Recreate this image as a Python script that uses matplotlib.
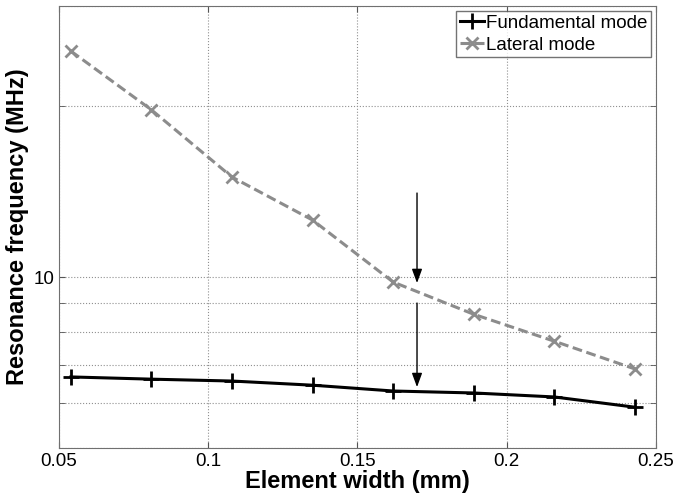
"""Resonance frequency vs element width, fundamental and lateral modes."""
import matplotlib
matplotlib.use("Agg")
import matplotlib.pyplot as plt
from matplotlib.ticker import FixedLocator, NullFormatter, FixedFormatter

plt.rcParams['font.family'] = ['Liberation Sans', 'DejaVu Sans']

width = [0.054, 0.081, 0.108, 0.135, 0.162, 0.189, 0.216, 0.243]
fundamental = [6.67, 6.61, 6.56, 6.45, 6.30, 6.25, 6.15, 5.90]
lateral = [25.0, 19.7, 15.0, 12.6, 9.8, 8.6, 7.71, 6.89]

arrow_x = 0.170
arrow_top = (14.06, 9.76)
arrow_bottom = (9.0, 6.40)

fig = plt.figure(figsize=(6.75, 4.97), dpi=100)
ax = fig.add_axes([0.0874, 0.0986, 0.884, 0.889])

ax.plot(width, fundamental, color='black', linewidth=2.2, marker='+',
        markersize=12, markeredgewidth=2, label='Fundamental mode')
ax.plot(width, lateral, color='#8c8c8c', linewidth=2.2, linestyle='--',
        dashes=(3.2, 1.5), marker='x', markersize=9, markeredgewidth=2,
        label='Lateral mode')

for y0, y1 in (arrow_top, arrow_bottom):
    ax.annotate('', xy=(arrow_x, y1), xytext=(arrow_x, y0),
                arrowprops=dict(arrowstyle='-|>,head_width=0.22,head_length=0.6',
                                color='black', lw=1,
                                mutation_scale=14, shrinkA=0, shrinkB=0))

ax.set_yscale('log')
ax.set_xlim(0.05, 0.25)
ax.set_ylim(5, 30)
ax.set_xticks([0.05, 0.1, 0.15, 0.2, 0.25])
ax.set_xticklabels(['0.05', '0.1', '0.15', '0.2', '0.25'])
ax.yaxis.set_major_locator(FixedLocator([10]))
ax.yaxis.set_major_formatter(FixedFormatter(['10']))
ax.yaxis.set_minor_locator(FixedLocator([5, 6, 7, 8, 9, 20, 30]))
ax.yaxis.set_minor_formatter(NullFormatter())

ax.grid(True, which='both', linestyle=':', color='#909090', linewidth=0.8)
ax.tick_params(which='both', direction='in', labelsize=13.5, length=4,
               top=True, right=True, color='#555555')
for s in ax.spines.values():
    s.set_color('#707070')

ax.set_xlabel('Element width (mm)', fontsize=17, fontweight='bold', labelpad=0)
ax.set_ylabel('Resonance frequency (MHz)', fontsize=17, fontweight='bold', labelpad=3)

leg = ax.legend(loc='upper right', fontsize=13.5, frameon=True, fancybox=False,
                borderpad=0.2, handlelength=1.3, handletextpad=0.1,
                labelspacing=0.25, borderaxespad=0.25)
leg.get_frame().set_edgecolor('#505050')
leg.get_frame().set_linewidth(1)

fig.savefig('out.png', dpi=100)
